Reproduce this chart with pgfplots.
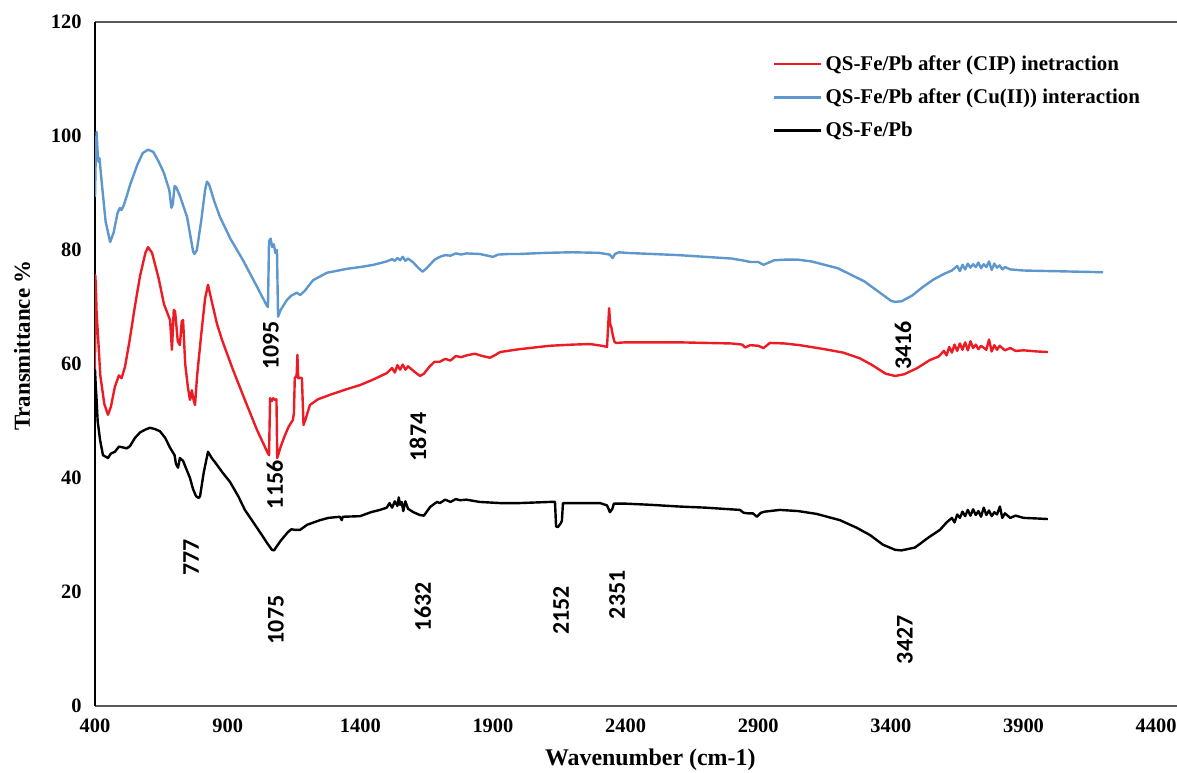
\documentclass[border=0pt]{standalone}
\usepackage{pgfplots}
\pgfplotsset{compat=1.18}
\usepackage{fontspec}
\setmainfont{Liberation Serif}
\newfontfamily\calib{Carlito}
\definecolor{cred}{RGB}{237,28,36}
\definecolor{cblue}{RGB}{94,151,205}
\definecolor{axgray}{RGB}{89,89,89}

\pgfplotstableread{
x y
400 89.3
403 97
406 100.7
410 97
413 95.5
417 96.1
425 92
440 85
457 81.4
470 83
485 86.5
494 87.4
500 87
508 87.8
520 89.5
532 91.4
560 95
580 97
600 97.6
620 97.2
640 95.5
660 93.5
680 90.5
688 87.4
693 88
700 91.2
706 91
720 89.5
747 85.8
770 79.7
775 79.3
784 80
800 85
815 90.5
822 92
830 91.5
850 88.5
871 85.8
910 82
958 78.2
1000 74.5
1048 70.2
1052 70
1056 81.5
1062 82
1068 80.5
1074 81
1080 79.5
1086 80
1090 68.3
1100 69.5
1123 71.2
1140 72
1161 72.5
1173 72.1
1190 72.8
1222 74.7
1274 76
1350 76.7
1399 77
1450 77.4
1500 78
1520 78.4
1530 78.1
1540 78.6
1550 78.2
1560 78.8
1570 78.1
1580 78.5
1600 77.8
1620 76.8
1635 76.2
1650 76.8
1680 78.3
1700 78.8
1720 79.1
1740 79.0
1760 79.4
1780 79.2
1800 79.4
1850 79.3
1880 79.0
1900 78.8
1920 79.2
1960 79.3
2000 79.3
2100 79.5
2200 79.6
2300 79.5
2340 79.2
2351 78.6
2360 79.3
2375 79.6
2400 79.5
2500 79.3
2600 79.1
2700 78.8
2800 78.5
2850 78.1
2870 77.9
2900 77.9
2920 77.4
2940 77.8
2960 78.2
3000 78.3
3050 78.3
3100 78
3200 76.8
3300 74.5
3350 72.8
3400 71.1
3416 70.9
3440 71
3480 72
3520 73.5
3560 74.8
3600 75.8
3630 76.4
3650 77.2
3660 76.3
3670 77.4
3680 76.6
3690 77.6
3700 76.9
3710 77.5
3720 77.0
3730 77.8
3740 76.8
3750 77.5
3760 77.0
3770 78.0
3780 76.5
3790 77.6
3800 76.9
3810 77.3
3820 76.6
3830 77.0
3850 76.6
3900 76.4
4000 76.3
4100 76.2
4200 76.1
}\bluedata

\pgfplotstableread{
x y
400 59
401 75.6
403 74
406 69
410 66
420 58
435 53
449 51.1
460 52.5
475 56
490 58
500 57.5
513 59.5
530 64
550 70
570 75.5
590 79.5
600 80.5
615 79.5
640 75
660 70.5
683 67.7
690 62.5
697 69.5
702 69.2
712 64
720 63.3
727 67.5
732 67.7
740 60
750 56
758 53.7
765 55.4
770 54
777 52.8
785 58
800 65
815 71.5
826 73.9
840 71
860 67
879 64.2
920 59
965 53.7
1010 48.5
1050 44.5
1056 44
1060 54
1066 53.5
1072 54
1078 53.7
1084 53.8
1087 43.5
1100 45.5
1116 47.5
1130 49
1146 50.2
1150 51.5
1153 57.5
1160 58
1163 61.6
1166 57.5
1175 57.6
1180 57.5
1186 49.3
1195 50.5
1210 52.8
1240 53.8
1286 54.6
1350 55.6
1399 56.3
1450 57.3
1500 58.4
1520 59.3
1530 58.5
1540 59.8
1550 59.0
1560 59.9
1570 59.0
1580 59.6
1600 58.8
1625 57.9
1640 58.3
1660 59.5
1680 60.4
1700 60.4
1720 60.9
1740 60.6
1760 61.4
1780 61.2
1800 61.5
1832 61.8
1860 61.4
1889 61.1
1910 61.6
1927 62.1
2000 62.6
2115 63.2
2200 63.4
2266 63.5
2310 63.2
2330 63
2338 69.8
2342 67
2346 66.5
2352 65
2358 63.9
2364 63.7
2400 63.8
2500 63.8
2600 63.8
2700 63.7
2800 63.6
2840 63.4
2850 62.9
2870 63.3
2900 63.2
2920 62.8
2944 63.7
3000 63.6
3057 63.3
3150 62.6
3220 62
3283 61
3330 59.8
3380 58.3
3416 57.9
3450 58.2
3500 59.3
3547 60.7
3580 61.3
3600 62.3
3610 61.5
3620 63
3630 62
3640 63.4
3650 62.3
3660 63.6
3670 62.5
3680 63.8
3690 62.4
3700 64
3710 62.8
3720 63.4
3730 62.6
3740 63.2
3760 62.5
3770 64.3
3780 62.2
3790 63.3
3800 62.5
3810 63.2
3830 62.4
3850 62.8
3870 62.3
3900 62.4
3950 62.2
3992 62.1
}\reddata

\pgfplotstableread{
x y
400 59
403 56
405 54.6
410 50
419 46.7
430 44
449 43.5
460 44.3
475 44.6
490 45.5
502 45.4
520 45.2
532 45.6
550 47
570 48
590 48.5
607 48.8
625 48.6
645 48.2
665 47
683 45.3
700 44
705 42.5
713 41.8
720 43.5
732 43
745 41.5
758 40
770 38
781 36.8
790 36.5
796 36.8
810 41
826 44.6
840 43.5
852 42.8
880 41
909 39.3
940 36.8
965 34.4
1000 32
1029 30
1050 28.5
1067 27.4
1075 27.3
1082 27.8
1100 29
1127 30.5
1140 31
1154 30.9
1173 30.9
1200 31.8
1248 32.6
1280 33
1323 33.2
1330 32.6
1334 33.2
1399 33.3
1440 34.0
1474 34.4
1500 34.8
1510 35.6
1520 34.8
1530 35.9
1540 35.1
1545 36.6
1550 35.3
1556 35.8
1562 34.2
1570 35.9
1580 34.6
1600 34
1625 33.5
1640 33.4
1663 34.9
1680 35.5
1690 35.8
1700 35.6
1720 36.2
1740 35.8
1760 36.3
1776 36.1
1800 36.2
1850 35.8
1927 35.6
2000 35.6
2115 35.8
2134 35.8
2138 31.5
2145 31.4
2155 32
2160 32.5
2164 35.6
2200 35.6
2304 35.6
2330 35.2
2341 34
2350 34.6
2356 35.5
2400 35.5
2492 35.3
2600 35.0
2700 34.8
2831 34.4
2845 33.9
2861 33.8
2880 33.8
2895 33.2
2910 33.9
2925 34.1
2982 34.4
3050 34.2
3120 33.7
3208 32.6
3270 31.3
3321 30
3370 28.3
3416 27.4
3440 27.3
3491 27.8
3540 29.5
3585 30.9
3610 32.2
3630 33.0
3640 32.2
3650 33.6
3660 33.0
3670 34.1
3680 33.3
3690 34.4
3700 33.4
3710 34.5
3720 33.5
3730 34.2
3740 33.2
3750 34.8
3760 33.5
3770 34.3
3780 33.3
3790 34.0
3800 33.6
3811 35
3820 33.0
3830 33.8
3850 33.0
3870 33.4
3900 33.0
3950 32.9
3992 32.8
}\blackdata

\begin{document}
\begin{tikzpicture}
\path[use as bounding box] (0,0) rectangle (1177bp,773bp);
\begin{axis}[
  at={(95bp,67bp)}, anchor=south west,
  scale only axis, width=1082.4bp, height=684bp,
  xmin=400, xmax=4480, ymin=0, ymax=120,
  xtick={400,900,...,4400}, ytick={0,20,...,120},
  axis x line=box, axis y line=left,
  axis line style={-},
  x axis line style={draw=axgray, line width=1.6bp},
  y axis line style={draw=black, line width=1.2bp},
  major tick length=0pt,
  /pgf/number format/assume math mode=true,
  /pgf/number format/1000 sep={},
  tick label style={font=\bfseries\fontsize{20.5}{24}\selectfont},
  yticklabel style={xshift=-10bp},
  xticklabel style={yshift=-9bp},
  xlabel={Wavenumber (cm-1)},
  ylabel={Transmittance \%},
  xlabel style={at={(axis description cs:0.513,-0.079)}, anchor=center, font=\bfseries\fontsize{24}{28}\selectfont},
  ylabel style={at={(axis description cs:-0.0674,0.527)}, anchor=center, rotate=0, font=\bfseries\fontsize{23}{27}\selectfont},
  legend style={at={(0.6264,0.952)}, anchor=north west, draw=none, fill=none,
    inner sep=0pt, font=\bfseries\fontsize{21}{25}\selectfont, row sep=15bp,
    nodes={inner xsep=3bp, inner ysep=1bp}},
  legend cell align=left,
  legend image code/.code={\draw[#1] (0bp,0bp) -- (47bp,0bp);},
]
\addplot[cred, line width=2.4bp, line join=round] table[x=x,y=y] {\reddata};
\addlegendentry{QS-Fe/Pb after (CIP) inetraction}
\addplot[cblue, line width=2.4bp, line join=round] table[x=x,y=y] {\bluedata};
\addlegendentry{QS-Fe/Pb after (Cu(II)) interaction}
\addplot[black, line width=2.4bp, line join=round] table[x=x,y=y] {\blackdata};
\addlegendentry{QS-Fe/Pb}

\begin{scope}[every node/.style={rotate=90, font=\calib\bfseries\fontsize{24}{28}\selectfont}]
\node at (axis cs:762,26) {777};
\node at (axis cs:1082,15.1) {1075};
\node at (axis cs:1636,17.4) {1632};
\node at (axis cs:2157,16.8) {2152};
\node at (axis cs:2368,19.5) {2351};
\node at (axis cs:3453,11.6) {3427};
\node at (axis cs:3446,63.3) {3416};
\node at (axis cs:1063,63.3) {1095};
\node at (axis cs:1078,38.8) {1156};
\node at (axis cs:1617,47.2) {1874};
\end{scope}
\end{axis}
\end{tikzpicture}
\end{document}
